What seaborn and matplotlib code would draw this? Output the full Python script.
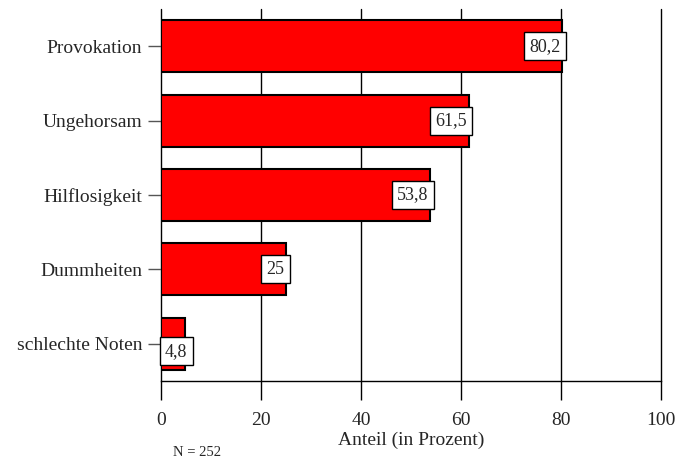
import matplotlib
matplotlib.use("Agg")
import matplotlib.pyplot as plt
import seaborn as sns
import pandas as pd

# <--- data --->
categories = ["Provokation", "Ungehorsam", "Hilflosigkeit", "Dummheiten", "schlechte Noten"]
values = [80.2, 61.5, 53.8, 25, 4.8]
value_labels = ["80,2", "61,5", "53,8", "25", "4,8"]
x_ticks = [0, 20, 40, 60, 80, 100]
x_label = "Anteil (in Prozent)"
note = "N = 252"

df = pd.DataFrame({"kategorie": categories, "anteil": values})

sns.set_style("white")
plt.rcParams["font.family"] = ["Liberation Serif", "DejaVu Serif"]

fig = plt.figure(figsize=(6.77, 4.63), dpi=100)
ax = fig.add_axes([161 / 677, 1 - 381 / 463, 500 / 677, 372 / 463])

sns.barplot(
    data=df, x="anteil", y="kategorie", orient="h",
    color="#ff0000", saturation=1, width=0.7,
    edgecolor="black", linewidth=1.5, ax=ax, zorder=3,
)

ax.set_xlim(0, 100)
ax.set_ylim(4.5, -0.5)
ax.set_xticks(x_ticks)
ax.set_xticklabels([str(t) for t in x_ticks], fontsize=14)
ax.tick_params(axis="x", bottom=True, length=14, width=1, color="black", pad=8)
ax.tick_params(axis="y", left=True, length=9.5, width=1, color="#555555", pad=4, labelsize=14)
ax.grid(axis="x", color="black", linewidth=1, zorder=0)
for gl in ax.get_xgridlines():
    gl.set_clip_on(False)
ax.set_axisbelow(True)
for side in ["top", "right", "left"]:
    ax.spines[side].set_visible(False)
ax.spines["bottom"].set_color("black")
ax.spines["bottom"].set_linewidth(1)
ax.set_ylabel("")
ax.set_xlabel(x_label, fontsize=14, labelpad=2)

# value boxes at the bar ends
for i, (v, lab) in enumerate(zip(values, value_labels)):
    if v < 10:
        x, ha, y = 0.8, "left", i + 0.1
    else:
        x, ha, y = v - 0.3, "right", i
    ax.text(x, y, lab, ha=ha, va="center", fontsize=13, zorder=5,
            bbox=dict(boxstyle="square,pad=0.3", facecolor="white", edgecolor="black", linewidth=1))

fig.text(197 / 677, 1 - 452 / 463, note, ha="center", va="center", fontsize=10.5)

fig.savefig("out.png", dpi=100)
